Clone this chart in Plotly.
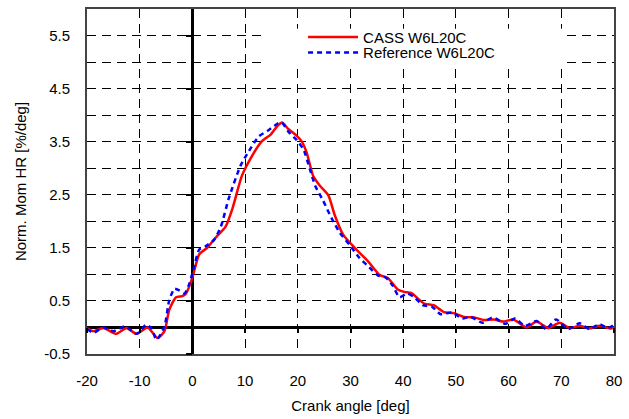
import plotly.graph_objects as go

# CASS W6L20C (red, solid)
cass_x = [-20, -18.8, -16.9, -14.4, -12.5, -10.6, -8.5, -6.6, -5.3, -4.4, -3.1, -1.9, -1.2, 0.0,
          1.3, 2.8, 4.4, 6.3, 7.6, 9.4, 11.3, 13.2, 14.8, 16.0, 17.0, 18.2, 19.6, 20.7, 21.7,
          22.9, 24.2, 25.8, 27.0, 28.6, 30.8, 33.3, 35.5, 37.1, 38.9, 40.2, 41.5, 44.0, 45.8,
          47.7, 49.6, 51.5, 53.5, 55.3, 57.2, 59.0, 60.9, 63.4, 65.3, 67.5, 69.7, 71.6, 73.5,
          75.3, 77.2, 79.4, 80]
cass_y = [-0.01, -0.07, -0.01, -0.12, -0.01, -0.12, 0.0, -0.2, -0.07, 0.33, 0.57, 0.59, 0.64, 0.94,
          1.38, 1.5, 1.69, 1.9, 2.24, 2.86, 3.23, 3.51, 3.63, 3.78, 3.86, 3.74, 3.63, 3.51, 3.29,
          2.86, 2.67, 2.49, 2.12, 1.75, 1.5, 1.25, 0.99, 0.93, 0.72, 0.67, 0.65, 0.45, 0.42,
          0.29, 0.27, 0.2, 0.19, 0.14, 0.15, 0.11, 0.15, 0.0, 0.11, -0.01, 0.09, -0.01, 0.03,
          -0.02, 0.03, -0.02, 0.0]

# Reference W6L20C (blue, dashed)
ref_x = [-20, -18.8, -16.9, -15.0, -12.8, -10.6, -8.8, -7.8, -6.8, -5.3, -4.4, -3.4, -2.5, -1.5,
         -0.6, 0.3, 1.3, 2.5, 4.1, 5.4, 6.9, 9.1, 10.7, 12.6, 14.5, 16.3, 17.0, 18.2, 19.8,
         21.1, 22.3, 23.3, 24.8, 26.4, 28.0, 29.8, 31.7, 33.6, 35.2, 36.7, 38.0, 39.3, 40.8,
         42.1, 43.7, 45.5, 47.1, 49.3, 51.2, 52.8, 55.0, 57.0, 59.4, 61.2, 63.1, 65.3, 67.1,
         69.0, 71.3, 73.5, 75.3, 77.2, 78.8, 80]
ref_y = [-0.03, -0.1, 0.0, -0.07, 0.02, -0.12, 0.05, -0.01, -0.23, 0.02, 0.51, 0.73, 0.7, 0.64,
         0.82, 1.13, 1.47, 1.53, 1.65, 1.9, 2.43, 3.04, 3.32, 3.6, 3.72, 3.85, 3.86, 3.69, 3.53,
         3.35, 2.98, 2.67, 2.39, 2.06, 1.78, 1.56, 1.31, 1.13, 0.98, 0.94, 0.79, 0.57, 0.64,
         0.57, 0.42, 0.39, 0.25, 0.28, 0.17, 0.2, 0.09, 0.19, 0.07, 0.17, 0.03, 0.12, -0.03,
         0.15, -0.03, 0.08, -0.03, 0.06, -0.01, 0.05]

x_ticks = [-20, -10, 0, 10, 20, 30, 40, 50, 60, 70, 80]
y_ticks = [-0.5, 0.5, 1.5, 2.5, 3.5, 4.5, 5.5]
x_range = [-20, 80]
y_range = [-0.5, 6.0]

FONT = "Liberation Sans, Arial, sans-serif"

fig = go.Figure()
fig.add_trace(go.Scatter(x=cass_x, y=cass_y, mode="lines", name="CASS W6L20C", legend="legend",
                         line=dict(color="#ff0000", width=2.5, shape="spline", smoothing=0.6)))
fig.add_trace(go.Scatter(x=ref_x, y=ref_y, mode="lines", name="Reference W6L20C", legend="legend2",
                         line=dict(color="#0000ff", width=2.5, dash="5px,4px", shape="spline", smoothing=0.6)))
# invisible trace to carry the tick axes drawn through the origin
fig.add_trace(go.Scatter(x=[x_range[0]], y=[y_range[0]], xaxis="x2", yaxis="y2", mode="markers",
                         marker=dict(opacity=0), showlegend=False, hoverinfo="skip"))

fig.update_layout(
    xaxis=dict(
        range=x_range, tickvals=x_ticks, ticktext=[str(v) for v in x_ticks],
        showgrid=True, gridcolor="#000000", griddash="9px,6px", gridwidth=1,
        zeroline=True, zerolinecolor="#000000", zerolinewidth=2.5,
        showline=True, linecolor="#444444", linewidth=2, mirror=True,
        ticks="", ticklabelstandoff=12,
        tickfont=dict(family=FONT, size=15, color="#000000"),
        title=dict(text="Crank angle [deg]", font=dict(family=FONT, size=15, color="#000000"), standoff=12),
    ),
    yaxis=dict(
        range=y_range, tickvals=y_ticks, ticktext=[str(v) for v in y_ticks],
        showgrid=True, gridcolor="#000000", griddash="9px,6px", gridwidth=1,
        minor=dict(dtick=0.5, tick0=0, showgrid=True, gridcolor="#000000", griddash="9px,6px", gridwidth=1),
        zeroline=True, zerolinecolor="#000000", zerolinewidth=2.5,
        showline=True, linecolor="#444444", linewidth=2, mirror=True,
        ticks="", ticklabelstandoff=12,
        tickfont=dict(family=FONT, size=15, color="#000000"),
        title=dict(text="Norm. Mom HR [%/deg]", font=dict(family=FONT, size=15, color="#000000"), standoff=14),
    ),
    xaxis2=dict(
        overlaying="x", anchor="free", range=x_range, tickvals=x_ticks,
        position=(0 - y_range[0]) / (y_range[1] - y_range[0]),
        ticks="outside", ticklen=5, tickwidth=2, tickcolor="#000000",
        showticklabels=False, showgrid=False, zeroline=False, showline=False,
    ),
    yaxis2=dict(
        overlaying="y", anchor="free", range=y_range, tickvals=y_ticks,
        position=(0 - x_range[0]) / (x_range[1] - x_range[0]),
        ticks="outside", ticklen=6, tickwidth=2, tickcolor="#000000",
        showticklabels=False, showgrid=False, zeroline=False, showline=False,
    ),
    # white box behind the legend hiding the grid
    shapes=[dict(type="rect", xref="x", yref="y", x0=13.1, x1=71.0, y0=4.89, y1=5.63,
                 fillcolor="white", line=dict(width=0), layer="between")],
    width=629, height=419,
    margin=dict(l=87, r=11, t=7, b=61),
    paper_bgcolor="white", plot_bgcolor="white",
    legend=dict(x=0.41, y=0.966, xanchor="left", yanchor="top", bgcolor="rgba(0,0,0,0)",
                font=dict(family=FONT, size=15, color="#000000"), itemwidth=50),
    legend2=dict(x=0.41, y=0.921, xanchor="left", yanchor="top", bgcolor="rgba(0,0,0,0)",
                 font=dict(family=FONT, size=15, color="#000000"), itemwidth=50),
    showlegend=True,
)

fig.write_html("out.html")
